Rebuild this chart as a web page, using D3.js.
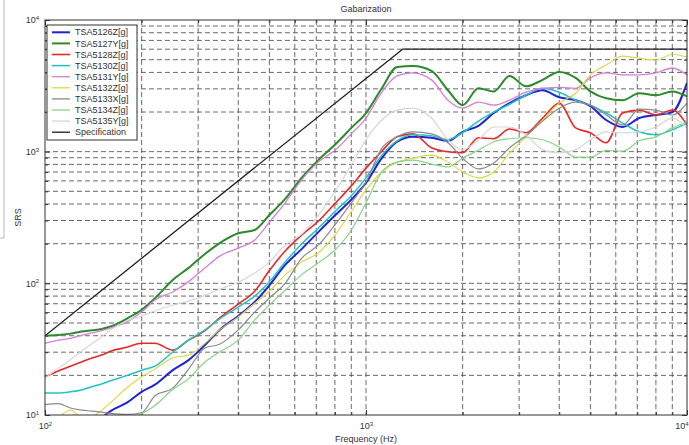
<!DOCTYPE html>
<html>
<head>
<meta charset="utf-8">
<script src="https://cdnjs.cloudflare.com/ajax/libs/d3/7.8.5/d3.min.js"></script>
<style>
  body { margin: 0; background: #fff; }
  text { font-family: "Liberation Sans", Arial, sans-serif; fill: #333; }
</style>
</head>
<body>
<div id="chart"></div>
<script>
// frequency grid (Hz) shared by all measured channels
var freq = [100, 110, 120, 130, 140, 150, 160, 180, 200, 220, 250, 280, 315, 350, 400, 450, 500, 560, 630, 710,
    800, 900, 1000, 1120, 1250, 1400, 1600, 1800, 2000, 2240, 2500, 2800, 3150, 3550, 4000, 4500, 5000, 5600,
    6300, 7100, 8000, 9000, 10000];

var tsa5126z = [5, 5.8, 6.7, 7.6, 8.5, 9.5, 10.7, 12.4, 15, 17, 21.9, 26.1, 34, 44.3, 56.5, 72.2, 96.6, 138, 182, 245,
    327, 432, 579, 892, 1190, 1296, 1275, 1209, 1415, 1569, 1966, 2335, 2684, 2925, 2590, 2460, 2215, 1740,
    1540, 1800, 1899, 1998, 3330];
var tsa5127y = [40, 40.5, 41.5, 43, 44, 45, 47, 54, 63, 77, 106, 131, 167, 202, 240, 254, 330, 438, 632, 862,
    1128, 1515, 1966, 3030, 4400, 4470, 4100, 2925, 2256, 3030, 2867, 3760, 3135, 3510, 4030, 3630, 2867, 2543,
    2460, 2777, 2680, 2867, 2630];
var tsa5128z = [19.5, 21.6, 23.5, 25.3, 27.1, 28.5, 30.5, 32.7, 35.1, 35.1, 31.1, 37, 43.7, 54.6, 69.6, 87.1, 125, 176, 232, 296,
    403, 550, 750, 1008, 1296, 1366, 1070, 998, 983, 1275, 1254, 1487, 1392, 1800, 2335, 1515, 1392, 1168,
    1966, 2068, 1899, 2068, 1594];
var tsa5130z = [14.7, 14.7, 15, 15.5, 16.4, 17.2, 18.2, 19.9, 21.9, 23.5, 30.1, 37, 44.3, 53.7, 66.1, 80, 103, 145, 199, 262,
    351, 462, 632, 941, 1209, 1343, 1319, 1232, 1392, 1707, 1998, 2292, 2684, 3030, 2827, 2460, 2256, 1966,
    1650, 1415, 1343, 1463, 1650];
var tsa5131y = [35, 37, 38.2, 40.3, 42, 43.7, 45.9, 51, 60.5, 74.7, 86, 103, 131, 161, 185, 213, 291, 409, 610, 833,
    1024, 1366, 1800, 2828, 3762, 3960, 3509, 2460, 2140, 2376, 2256, 2460, 2828, 3030, 3080, 3030, 3632, 3960,
    3824, 3824, 3960, 4320, 3824];
var tsa5132z = [8.5, 9.6, 10.9, 9.7, 9.8, 10.8, 12.4, 16.1, 19.5, 22.4, 27.1, 28.5, 35.1, 44.3, 55.6, 70.8, 87.1, 116, 145, 170,
    232, 351, 513, 701, 833, 892, 941, 833, 701, 632, 701, 974, 1296, 1740, 2335, 2777, 3824, 4554,
    5313, 5134, 4961, 5500, 5225];
var tsa5133x = [12, 12.2, 11.3, 10.9, 10.7, 10.5, 10.3, 10.1, 10.4, 14, 16, 22.3, 32.3, 34.5, 44.3, 60.5, 77.3, 100, 155, 195,
    278, 409, 589, 1060, 1296, 1415, 1366, 1168, 892, 739, 820, 1070, 1319, 1707, 2140, 2376, 2256, 1899,
    1594, 2106, 2068, 1899, 2335];
var tsa5134z = [3.5, 4, 4.6, 5.4, 6.5, 7.6, 8.2, 9.2, 10.2, 11.8, 15.6, 18.8, 25.3, 30.1, 37, 52.7, 68.5, 88.6, 116, 143,
    179, 253, 409, 701, 833, 862, 805, 765, 892, 1024, 1190, 1254, 1275, 1232, 1085, 908, 908, 1024,
    1008, 1209, 1296, 1515, 1681];
var tsa5135y = [19.1, 22.6, 26.3, 30.6, 34.8, 39.3, 44.2, 52, 56.5, 61.7, 68.5, 73.3, 81.2, 90.2, 102, 120, 145, 195, 236, 328,
    496, 792, 1232, 1740, 2068, 2140, 1800, 1232, 1033, 1232, 1540, 1540, 1343, 1033, 983, 1033, 1232, 1415,
    1392, 1415, 1540, 1800, 1515];

// specification envelope
var specFreq = [100, 1300, 10000];
var specVals = [40, 6000, 6000];

var seriesNames = ["TSA5126Z[g]", "TSA5127Y[g]", "TSA5128Z[g]", "TSA5130Z[g]", "TSA5131Y[g]",
    "TSA5132Z[g]", "TSA5133X[g]", "TSA5134Z[g]", "TSA5135Y[g]", "Specification"];
var seriesColors = ["#1f22d8", "#2b8a2b", "#e62828", "#22c2c2", "#d67fd6", "#d8d844", "#8a8a8a", "#88d488", "#d6d6d6", "#1e1e1e"];
var seriesWidths = [2, 2, 1.6, 1.5, 1.3, 1.1, 1.2, 1.2, 1.2, 1.3];

var svgWidth = 689;
var svgHeight = 445;

var margin = {
    top: 20,
    right: 2,
    bottom: 30,
    left: 45
};

var width = svgWidth - margin.left - margin.right;
var height = svgHeight - margin.top - margin.bottom;

var svg = d3.select("#chart")
    .append("svg")
    .attr("width", svgWidth)
    .attr("height", svgHeight);

// stray edge of a neighbouring figure on the left
svg.append("path")
    .attr("d", "M4,0V238H0")
    .attr("fill", "none")
    .attr("stroke", "#b8b8b8")
    .attr("stroke-width", 1);

var chartGroup = svg.append("g")
    .attr("transform", `translate(${margin.left}, ${margin.top})`);

// log scales
var xScale = d3.scaleLog()
    .domain([100, 10000])
    .range([0, width]);

var yScale = d3.scaleLog()
    .domain([10, 10000])
    .range([height, 0]);

var xAll = xScale.ticks();
var yAll = yScale.ticks();
var isMajor = d => Math.abs(Math.log10(d) - Math.round(Math.log10(d))) < 1e-9;
var xMajor = xAll.filter(isMajor);
var yMajor = yAll.filter(isMajor);
var xMinor = xAll.filter(d => !isMajor(d));
var yMinor = yAll.filter(d => !isMajor(d));

// dashed grid at every tick
chartGroup.append("g")
    .selectAll("line")
    .data(xAll.slice(1, -1))
    .enter()
    .append("line")
    .attr("x1", d => xScale(d))
    .attr("x2", d => xScale(d))
    .attr("y1", 0)
    .attr("y2", height)
    .attr("stroke", "#444")
    .attr("stroke-width", 0.8)
    .attr("stroke-dasharray", "5,3");

chartGroup.append("g")
    .selectAll("line")
    .data(yAll.slice(1, -1))
    .enter()
    .append("line")
    .attr("x1", 0)
    .attr("x2", width)
    .attr("y1", d => yScale(d))
    .attr("y2", d => yScale(d))
    .attr("stroke", "#444")
    .attr("stroke-width", 0.8)
    .attr("stroke-dasharray", "5,3");

// superscript labels 10^n
function powLabel(sel) {
    sel.each(function(d) {
        var t = d3.select(this);
        t.text(null);
        t.append("tspan").text("10");
        t.append("tspan")
            .attr("dy", "-0.55em")
            .attr("font-size", "6px")
            .text(Math.round(Math.log10(d)));
    });
}

function styleAxis(g) {
    g.select(".domain").remove();
    g.selectAll("line").attr("stroke", "#333");
    g.selectAll("text")
        .attr("font-family", "'Liberation Sans', Arial, sans-serif")
        .attr("font-size", "9px")
        .attr("fill", "#333");
}

// axes: majors with labels, minors plain, mirrored on top/right
var bottomAxis = chartGroup.append("g")
    .attr("transform", `translate(0, ${height})`)
    .call(d3.axisBottom(xScale).tickValues(xMajor).tickSizeInner(-5).tickSizeOuter(0).tickPadding(8).tickFormat(""))
    .call(styleAxis);
bottomAxis.selectAll(".tick text").call(powLabel);
// last label sits at the window edge: keep it inside
bottomAxis.selectAll(".tick text")
    .filter(d => d === 10000)
    .attr("text-anchor", "end")
    .attr("x", 1);

chartGroup.append("g")
    .attr("transform", `translate(0, ${height})`)
    .call(d3.axisBottom(xScale).tickValues(xMinor).tickSizeInner(-3).tickSizeOuter(0).tickFormat(""))
    .call(styleAxis);

var leftAxis = chartGroup.append("g")
    .call(d3.axisLeft(yScale).tickValues(yMajor).tickSizeInner(-5).tickSizeOuter(0).tickPadding(6).tickFormat(""))
    .call(styleAxis);
leftAxis.selectAll(".tick text").call(powLabel);

chartGroup.append("g")
    .call(d3.axisLeft(yScale).tickValues(yMinor).tickSizeInner(-3).tickSizeOuter(0).tickFormat(""))
    .call(styleAxis);

chartGroup.append("g")
    .call(d3.axisTop(xScale).tickValues(xMajor).tickSizeInner(-5).tickSizeOuter(0).tickFormat(""))
    .call(styleAxis);
chartGroup.append("g")
    .call(d3.axisTop(xScale).tickValues(xMinor).tickSizeInner(-3).tickSizeOuter(0).tickFormat(""))
    .call(styleAxis);
chartGroup.append("g")
    .attr("transform", `translate(${width}, 0)`)
    .call(d3.axisRight(yScale).tickValues(yMajor).tickSizeInner(-5).tickSizeOuter(0).tickFormat(""))
    .call(styleAxis);
chartGroup.append("g")
    .attr("transform", `translate(${width}, 0)`)
    .call(d3.axisRight(yScale).tickValues(yMinor).tickSizeInner(-3).tickSizeOuter(0).tickFormat(""))
    .call(styleAxis);

// clip curves to the plot box
chartGroup.append("clipPath")
    .attr("id", "plotClip")
    .append("rect")
    .attr("width", width)
    .attr("height", height);

var channelVals = [tsa5126z, tsa5127y, tsa5128z, tsa5130z, tsa5131y, tsa5132z, tsa5133x, tsa5134z, tsa5135y];
var seriesData = channelVals.map(vals => freq.map((f, i) => [f, vals[i]]));
seriesData.push(specFreq.map((f, i) => [f, specVals[i]]));

// measured channels smoothed, spec drawn straight
var curveLine = d3.line()
    .x(d => xScale(d[0]))
    .y(d => yScale(d[1]))
    .curve(d3.curveMonotoneX);

var straightLine = d3.line()
    .x(d => xScale(d[0]))
    .y(d => yScale(d[1]));

chartGroup.append("g")
    .attr("clip-path", "url(#plotClip)")
    .selectAll("path")
    .data(seriesData)
    .enter()
    .append("path")
    .attr("d", (d, i) => i === seriesData.length - 1 ? straightLine(d) : curveLine(d))
    .attr("fill", "none")
    .attr("stroke", (d, i) => seriesColors[i])
    .attr("stroke-width", (d, i) => seriesWidths[i])
    .attr("stroke-linejoin", "round");

// axes box
chartGroup.append("rect")
    .attr("width", width)
    .attr("height", height)
    .attr("fill", "none")
    .attr("stroke", "#333")
    .attr("stroke-width", 1);

// legend
var legend = chartGroup.append("g")
    .attr("transform", "translate(2, 5)");

legend.append("rect")
    .attr("width", 90)
    .attr("height", 115)
    .attr("fill", "#fff")
    .attr("stroke", "#333")
    .attr("stroke-width", 1);

var legendItems = legend.selectAll("g")
    .data(seriesNames)
    .enter()
    .append("g")
    .attr("transform", (d, i) => `translate(0, ${7.3 + i * 11.1})`);

legendItems.append("line")
    .attr("x1", 5)
    .attr("x2", 23)
    .attr("stroke", (d, i) => seriesColors[i])
    .attr("stroke-width", (d, i) => Math.max(1.3, seriesWidths[i]));

legendItems.append("text")
    .attr("x", 28)
    .attr("dy", "0.35em")
    .attr("font-size", "9px")
    .text(d => d);

// title and axes labels
svg.append("text")
    .attr("x", margin.left + width / 2)
    .attr("y", 12)
    .attr("text-anchor", "middle")
    .attr("font-size", "9px")
    .text("Gabarization");

svg.append("text")
    .attr("x", margin.left + width / 2)
    .attr("y", 442)
    .attr("text-anchor", "middle")
    .attr("font-size", "9px")
    .text("Frequency (Hz)");

svg.append("text")
    .attr("transform", `translate(21, ${margin.top + height / 2}) rotate(-90)`)
    .attr("text-anchor", "middle")
    .attr("font-size", "9px")
    .text("SRS");
</script>
</body>
</html>
